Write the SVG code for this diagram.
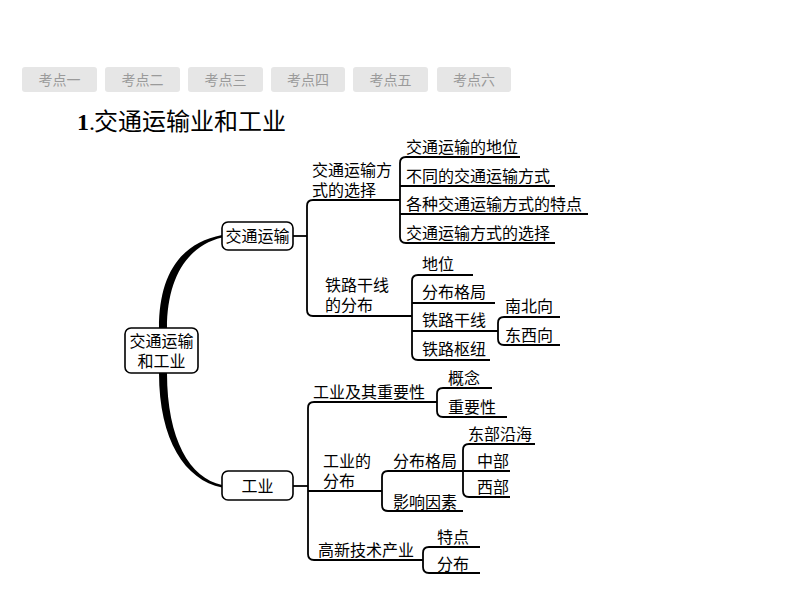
<svg xmlns="http://www.w3.org/2000/svg" width="794" height="596" viewBox="0 0 794 596">
<style>
.tab{fill:#e6e6e6;stroke:none}
.tabt{font-family:"Noto Sans CJK SC","Noto Sans",sans-serif;font-size:14px;fill:#9a9a9a;text-anchor:middle}
.t{font-family:"Noto Sans CJK SC","Noto Sans",sans-serif;font-size:16px;fill:#000}
.tc{text-anchor:middle}
.box{fill:#fff;stroke:#000;stroke-width:1.6}
.ln{fill:none;stroke:#000;stroke-width:1.8;stroke-linejoin:round;stroke-linecap:butt}
.thick{fill:#000;stroke:none}
</style>
<rect width="794" height="596" fill="#fff"/>
<g id="tabs">
<rect class="tab" x="22" y="67" width="75" height="25" rx="3"/><text class="tabt" x="59.5" y="85">考点一</text>
<rect class="tab" x="105" y="67" width="75" height="25" rx="3"/><text class="tabt" x="142.5" y="85">考点二</text>
<rect class="tab" x="188" y="67" width="75" height="25" rx="3"/><text class="tabt" x="225.5" y="85">考点三</text>
<rect class="tab" x="271" y="67" width="74" height="25" rx="3"/><text class="tabt" x="308" y="85">考点四</text>
<rect class="tab" x="353" y="67" width="75" height="25" rx="3"/><text class="tabt" x="390.5" y="85">考点五</text>
<rect class="tab" x="437" y="67" width="74" height="25" rx="3"/><text class="tabt" x="474" y="85">考点六</text>
</g>
<g id="title">
<text x="77" y="130" style="font-family:'Liberation Serif',serif;font-size:24px;font-weight:bold">1<tspan font-weight="normal">.</tspan></text>
<text x="94" y="130" style="font-family:'Noto Sans CJK SC',sans-serif;font-size:24px">交通运输业和工业</text>
</g>
<g id="connectors">
<path class="thick" d="M159,328 C159,275 180,243 222,235 L222,237.5 C186,246 167,280 167,328 Z"/>
<path class="thick" d="M159,373 C159,440 185,480 222,487.5 L222,485 C190,478 167,440 167,373 Z"/>
<path class="ln" d="M293,236 H307"/>
<path class="ln" d="M400,200 H313 Q307,200 307,206 V310 Q307,316 313,316 H412"/>
<path class="ln" d="M520,157 H406 Q400,157 400,163 V237 Q400,243 406,243 H555"/>
<path class="ln" d="M400,186 H555"/>
<path class="ln" d="M400,214 H588"/>
<path class="ln" d="M473,275 H418 Q412,275 412,281 V354 Q412,360 418,360 H490"/>
<path class="ln" d="M412,303 H495"/>
<path class="ln" d="M412,331 H498"/>
<path class="ln" d="M560,317 H504 Q498,317 498,323 V339 Q498,345 504,345 H560"/>
<path class="ln" d="M293,486 H308"/>
<path class="ln" d="M437,402 H314 Q308,402 308,408 V554 Q308,560 314,560 H423"/>
<path class="ln" d="M492,388 H443 Q437,388 437,394 V411 Q437,417 443,417 H507"/>
<path class="ln" d="M308,491 H382"/>
<path class="ln" d="M463,471 H388 Q382,471 382,477 V505 Q382,511 388,511 H463"/>
<path class="ln" d="M535,444 H469 Q463,444 463,450 V491 Q463,497 469,497 H510"/>
<path class="ln" d="M463,471 H510"/>
<path class="ln" d="M480,547 H429 Q423,547 423,553 V567 Q423,573 429,573 H480"/>
</g>
<g id="root">
<rect class="box" x="125" y="328" width="73" height="45" rx="6"/>
<text class="t tc" x="161.5" y="347">交通运输<tspan x="161.5" dy="20">和工业</tspan></text>
</g>
<g id="n-jiaotong">
<rect class="box" x="222" y="222" width="71" height="28" rx="6"/>
<text class="t tc" x="257.5" y="242">交通运输</text>
</g>
<g id="n-gongye">
<rect class="box" x="222" y="471" width="71" height="29" rx="6"/>
<text class="t tc" x="257.5" y="492">工业</text>
</g>
<g id="n-fangshi">
<text class="t" x="312" y="176">交通运输方<tspan x="312" dy="20">式的选择</tspan></text>
</g>
<g id="n-diwei1"><text class="t" x="406" y="153">交通运输的地位</text></g>
<g id="n-butong"><text class="t" x="406" y="182">不同的交通运输方式</text></g>
<g id="n-gezhong"><text class="t" x="406" y="210">各种交通运输方式的特点</text></g>
<g id="n-xuanze"><text class="t" x="406" y="239">交通运输方式的选择</text></g>
<g id="n-tielu">
<text class="t" x="325" y="291">铁路干线<tspan x="325" dy="20">的分布</tspan></text>
</g>
<g id="n-diwei2"><text class="t" x="422" y="270">地位</text></g>
<g id="n-fenbugeju1"><text class="t" x="422" y="298">分布格局</text></g>
<g id="n-tieluganxian"><text class="t" x="422" y="326">铁路干线</text></g>
<g id="n-shuniu"><text class="t" x="422" y="355">铁路枢纽</text></g>
<g id="n-nanbei"><text class="t" x="505" y="312">南北向</text></g>
<g id="n-dongxi"><text class="t" x="505" y="341">东西向</text></g>
<g id="n-zhongyao"><text class="t" x="313" y="398">工业及其重要性</text></g>
<g id="n-gainian"><text class="t" x="448" y="384">概念</text></g>
<g id="n-zhongyaoxing"><text class="t" x="448" y="413">重要性</text></g>
<g id="n-gyfenbu">
<text class="t" x="323" y="467">工业的<tspan x="323" dy="20">分布</tspan></text>
</g>
<g id="n-fenbugeju2"><text class="t" x="393" y="467">分布格局</text></g>
<g id="n-yingxiang"><text class="t" x="393" y="508">影响因素</text></g>
<g id="n-dongbu"><text class="t" x="468" y="440">东部沿海</text></g>
<g id="n-zhongbu"><text class="t" x="477" y="467">中部</text></g>
<g id="n-xibu"><text class="t" x="477" y="493">西部</text></g>
<g id="n-gaoxin"><text class="t" x="318" y="556">高新技术产业</text></g>
<g id="n-tedian"><text class="t" x="437" y="543">特点</text></g>
<g id="n-fenbu3"><text class="t" x="437" y="570">分布</text></g>
</svg>
